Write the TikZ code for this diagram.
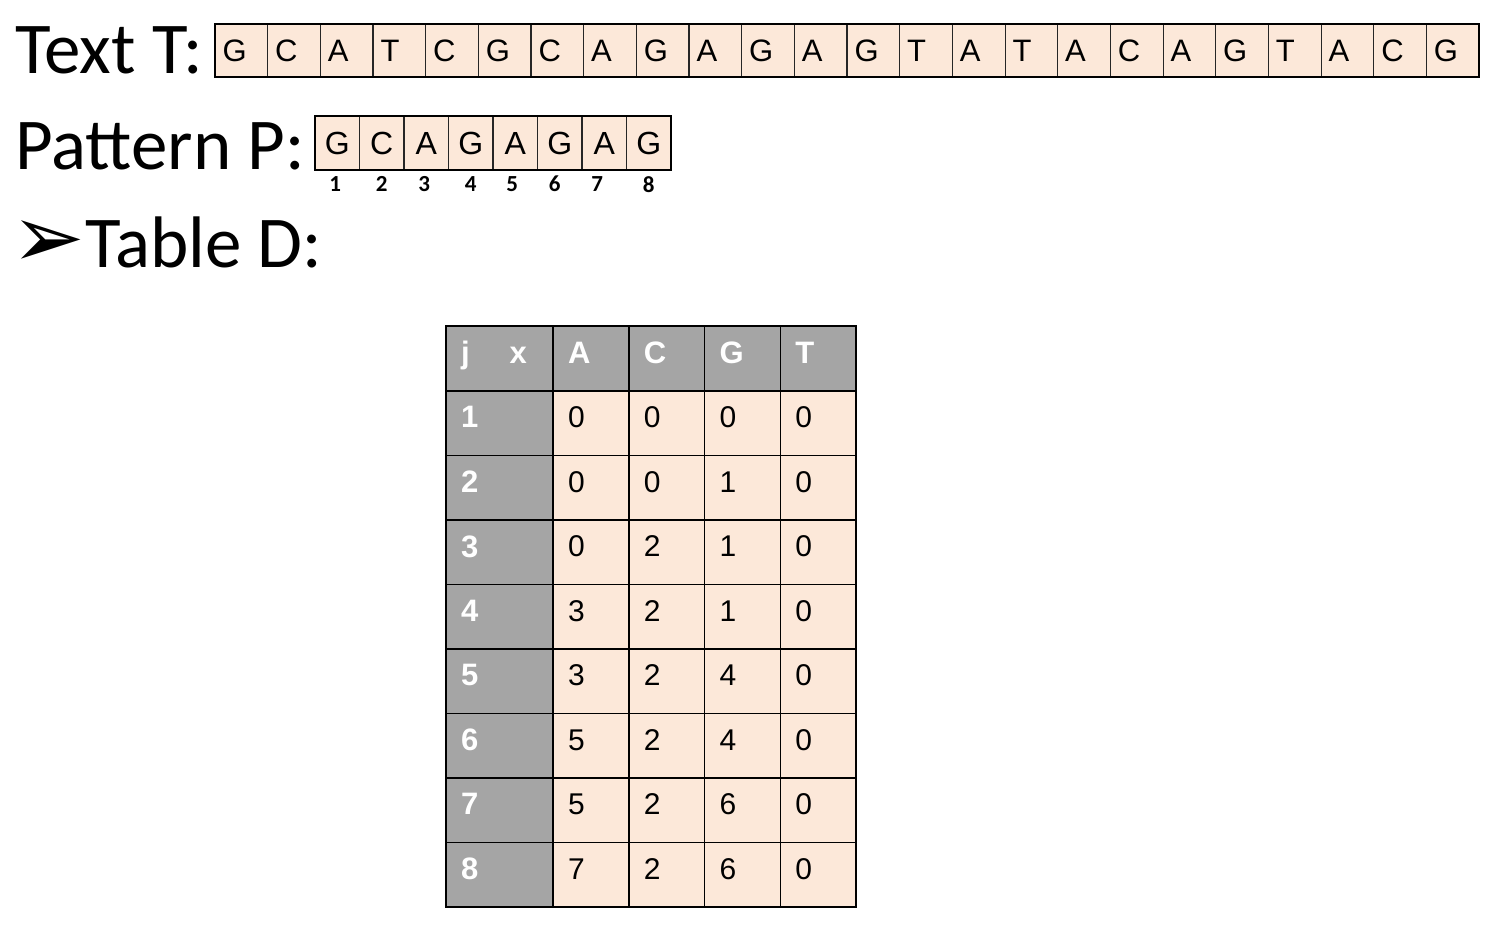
\documentclass[tikz,border=0pt]{standalone}
\usepackage{fontspec}
\setmainfont{Liberation Sans}
\newfontfamily\calibri{Carlito}
\newfontfamily\dejavu{DejaVu Sans}
\usetikzlibrary{positioning}
\definecolor{peach}{HTML}{FCE8D9}
\definecolor{headgray}{HTML}{A5A5A5}

\begin{document}
\begin{tikzpicture}[x=1pt,y=-1pt,
    title/.style={anchor=base west,inner sep=0pt,font=\calibri\fontsize{73}{75}\selectfont},
    tcell/.style={rectangle,draw=black!85,line width=1.1pt,fill=peach,outer sep=0pt,
      minimum height=53pt,text width=37.67pt,inner xsep=7.5pt,inner ysep=0pt,align=left,
      font=\fontsize{31}{33}\selectfont},
    pcell/.style={rectangle,draw=black!85,line width=1.2pt,fill=peach,outer sep=0pt,
      minimum width=44.5pt,minimum height=54pt,inner sep=0pt,font=\fontsize{32}{34}\selectfont},
    pnum/.style={below=6pt,inner sep=0pt,font=\calibri\bfseries\fontsize{23}{25}\selectfont},
    head/.style={rectangle,draw=black,line width=1.5pt,fill=headgray,text=white,outer sep=0pt,
      minimum height=65pt,inner xsep=15pt,align=left,text depth=12pt,
      font=\bfseries\fontsize{31}{33}\selectfont},
    cell/.style={rectangle,draw=black,line width=1.5pt,fill=peach,outer sep=0pt,
      minimum height=64.5pt,text width=45.75pt,inner xsep=15pt,align=left,text depth=12pt,
      font=\fontsize{30}{32}\selectfont},
    frame/.style={draw=black,line width=2.2pt}]

  \useasboundingbox (0,0) rectangle (1489,935);

  % titles
  \node[title] (textT) at (15,73) {Text T:};
  \node[title] (patP) at (15,169) {Pattern P:};
  \node[title] (tabD) at (85,267) {Table D:};
  \node[anchor=base east,inner sep=0pt,font=\dejavu\fontsize{88}{90}\selectfont] (bullet) at (tabD.base west) {➢};

  % text T
  \node[tcell,anchor=north west] (t1) at (215,24) {G};
  \node[tcell,right=0pt of t1] (t2) {C};
  \node[tcell,right=0pt of t2] (t3) {A};
  \node[tcell,right=0pt of t3] (t4) {T};
  \node[tcell,right=0pt of t4] (t5) {C};
  \node[tcell,right=0pt of t5] (t6) {G};
  \node[tcell,right=0pt of t6] (t7) {C};
  \node[tcell,right=0pt of t7] (t8) {A};
  \node[tcell,right=0pt of t8] (t9) {G};
  \node[tcell,right=0pt of t9] (t10) {A};
  \node[tcell,right=0pt of t10] (t11) {G};
  \node[tcell,right=0pt of t11] (t12) {A};
  \node[tcell,right=0pt of t12] (t13) {G};
  \node[tcell,right=0pt of t13] (t14) {T};
  \node[tcell,right=0pt of t14] (t15) {A};
  \node[tcell,right=0pt of t15] (t16) {T};
  \node[tcell,right=0pt of t16] (t17) {A};
  \node[tcell,right=0pt of t17] (t18) {C};
  \node[tcell,right=0pt of t18] (t19) {A};
  \node[tcell,right=0pt of t19] (t20) {G};
  \node[tcell,right=0pt of t20] (t21) {T};
  \node[tcell,right=0pt of t21] (t22) {A};
  \node[tcell,right=0pt of t22] (t23) {C};
  \node[tcell,right=0pt of t23] (t24) {G};
  \draw[frame] (t1.north west) rectangle (t24.south east);

  % pattern P
  \node[pcell,anchor=north west] (p1) at (315,116) {G};
  \node[pcell,right=0pt of p1] (p2) {C};
  \node[pcell,right=0pt of p2] (p3) {A};
  \node[pcell,right=0pt of p3] (p4) {G};
  \node[pcell,right=0pt of p4] (p5) {A};
  \node[pcell,right=0pt of p5] (p6) {G};
  \node[pcell,right=0pt of p6] (p7) {A};
  \node[pcell,right=0pt of p7] (p8) {G};
  \draw[frame] (p1.north west) rectangle (p8.south east);

  \node[pnum,xshift=-2pt] (n1) at (p1.south) {1};
  \node[pnum] (n2) at (p2.south) {2};
  \node[pnum,xshift=-2pt] (n3) at (p3.south) {3};
  \node[pnum] (n4) at (p4.south) {4};
  \node[pnum,xshift=-3pt] (n5) at (p5.south) {5};
  \node[pnum,xshift=-5pt] (n6) at (p6.south) {6};
  \node[pnum,xshift=-7pt] (n7) at (p7.south) {7};
  \node[pnum] (n8) at (p8.south) {8};

  % table D
  \node[head,anchor=north west,text width=77pt] (jx) at (446,326) {j\hspace{40pt}x};
  \node[head,text width=45.75pt,right=0pt of jx] (hA) {A};
  \node[head,text width=45.75pt,right=0pt of hA] (hC) {C};
  \node[head,text width=45.75pt,right=0pt of hC] (hG) {G};
  \node[head,text width=45.75pt,right=0pt of hG] (hT) {T};

  \foreach \a/\c/\g/\t [count=\r] in {0/0/0/0, 0/0/1/0, 0/2/1/0, 3/2/1/0,
                                       3/2/4/0, 5/2/4/0, 5/2/6/0, 7/2/6/0}{
    \node[head,minimum height=64.5pt,text width=77pt,anchor=north west] (dj\r)
      at (446,{391+64.5*(\r-1)}) {\r};
    \node[cell,right=0pt of dj\r] (dA\r) {\a};
    \node[cell,right=0pt of dA\r] (dC\r) {\c};
    \node[cell,right=0pt of dC\r] (dG\r) {\g};
    \node[cell,right=0pt of dG\r] (dT\r) {\t};
  }
  \draw[frame] (jx.north west) rectangle (dT8.south east);

\end{tikzpicture}
\end{document}
